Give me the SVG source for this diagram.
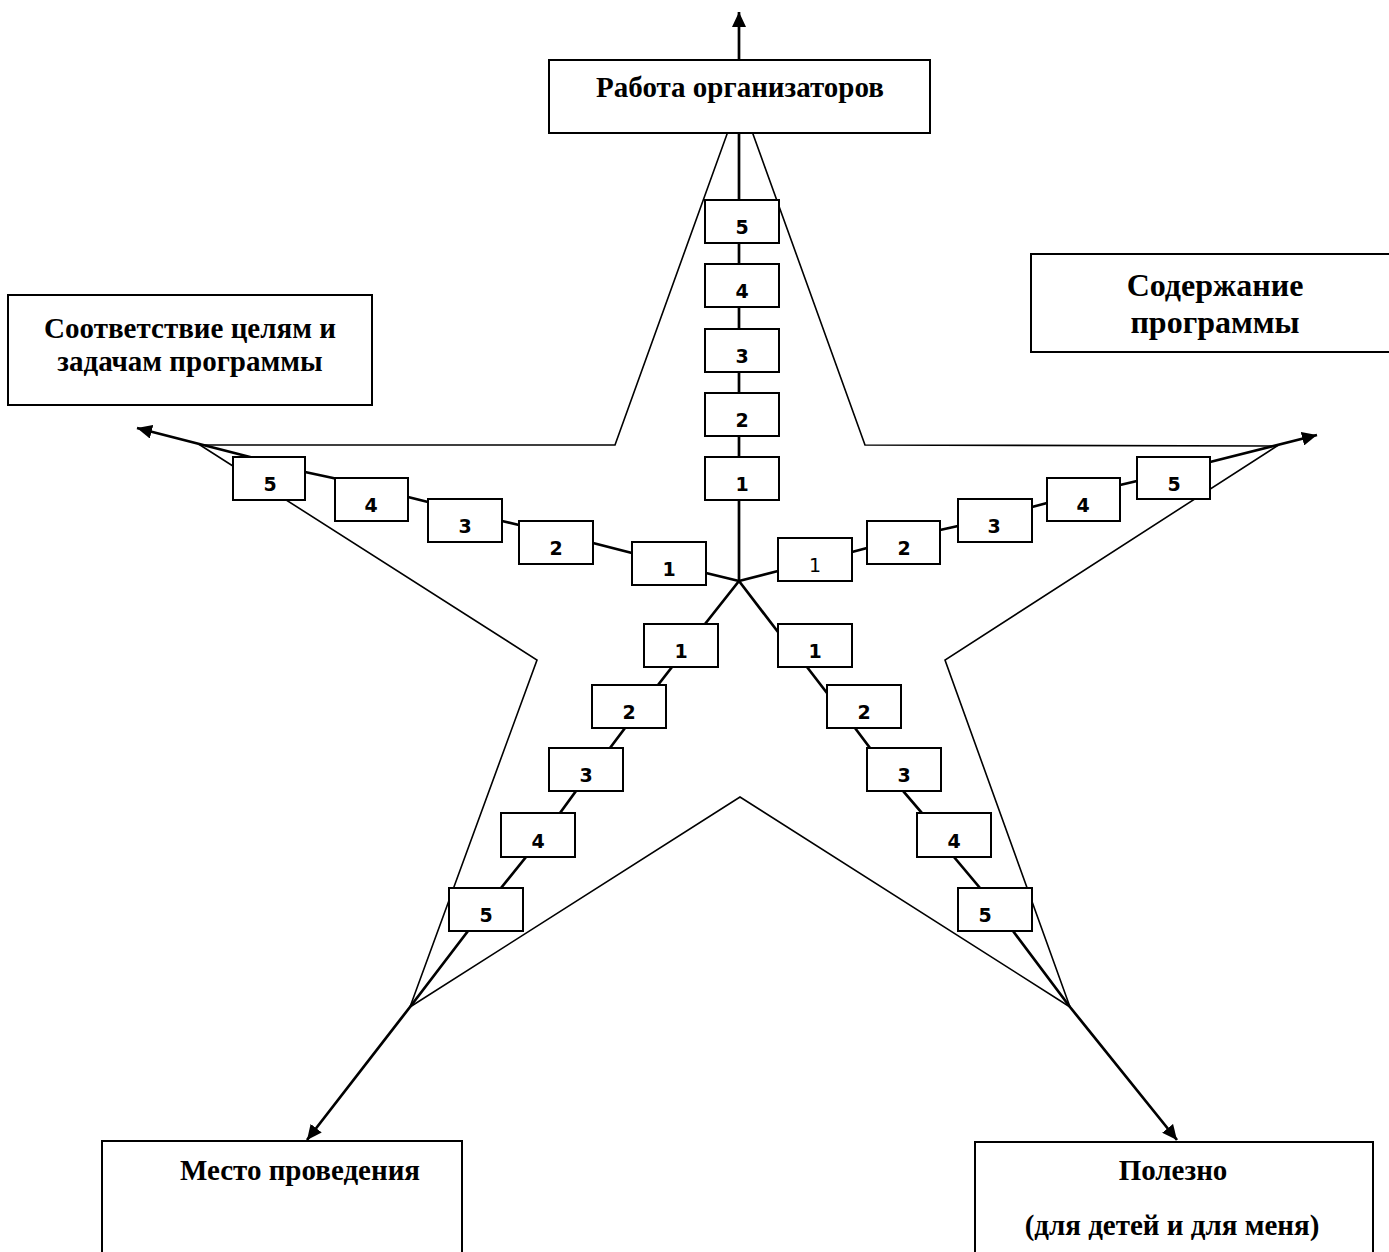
<svg xmlns="http://www.w3.org/2000/svg" width="1389" height="1252" viewBox="0 0 1389 1252">
<style>
.star{fill:none;stroke:#000;stroke-width:1.6}
.axis{fill:none;stroke:#000;stroke-width:2.7;stroke-linejoin:miter}
.nb rect{fill:#fff;stroke:#000;stroke-width:2}
.nb text{font-family:"DejaVu Sans",sans-serif;font-weight:bold;font-size:19px;text-anchor:middle}
.big rect{fill:#fff;stroke:#000;stroke-width:2}
.big text{font-family:"Liberation Serif","Times New Roman",serif;font-weight:bold;font-size:29px;text-anchor:middle}
</style>
<defs>
<marker id="ah" markerUnits="userSpaceOnUse" markerWidth="16" markerHeight="14" refX="15" refY="7" orient="auto">
<path d="M0,0 L15,7 L0,14 z" fill="#000"/>
</marker>
</defs>
<rect width="1389" height="1252" fill="#fff"/>
<g id="star">
<polygon class="star" points="740,98 865,445 1277,446 945,660 1070,1007 740,797 410,1007 537,660 200,445 615,445"/>
</g>
<g id="connectors">
<polyline class="axis" marker-end="url(#ah)" points="739,581 739,12"/>
<polyline class="axis" marker-end="url(#ah)" points="739,581 706,573 632,553 593,543 519,525 502,521 428,502 408,497 333,478 305,472 250,457 137,428"/>
<polyline class="axis" marker-end="url(#ah)" points="739,581 778,571 852,552 867,548 940,530 958,526 1032,507 1047,503 1120,485 1137,481 1210,462 1317,435"/>
<polyline class="axis" marker-end="url(#ah)" points="739,581 705,624 672,667 658,685 625,728 610,748 576,791 560,813 526,857 501,888 468,931 410,1007 307,1140"/>
<polyline class="axis" marker-end="url(#ah)" points="739,581 778,632 807,667 827,693 855,728 870,748 903,791 922,813 954,857 980,888 1013,931 1070,1007 1177,1140"/>
</g>
<g id="top-axis" class="nb">
<g id="t5"><rect x="705" y="200" width="74" height="43"/><text x="742" y="234">5</text></g>
<g id="t4"><rect x="705" y="264" width="74" height="43"/><text x="742" y="298">4</text></g>
<g id="t3"><rect x="705" y="329" width="74" height="43"/><text x="742" y="363">3</text></g>
<g id="t2"><rect x="705" y="393" width="74" height="43"/><text x="742" y="427">2</text></g>
<g id="t1"><rect x="705" y="457" width="74" height="43"/><text x="742" y="491">1</text></g>
</g>
<g id="left-axis" class="nb">
<g id="l1"><rect x="632" y="542" width="74" height="43"/><text x="669" y="576">1</text></g>
<g id="l2"><rect x="519" y="521" width="74" height="43"/><text x="556" y="555">2</text></g>
<g id="l3"><rect x="428" y="499" width="74" height="43"/><text x="465" y="533">3</text></g>
<g id="l4"><rect x="335" y="478" width="73" height="43"/><text x="371" y="512">4</text></g>
<g id="l5"><rect x="233" y="457" width="72" height="43"/><text x="270" y="491">5</text></g>
</g>
<g id="right-axis" class="nb">
<g id="r1"><rect x="778" y="538" width="74" height="43"/><text x="815" y="572" style="font-weight:normal">1</text></g>
<g id="r2"><rect x="867" y="521" width="73" height="43"/><text x="904" y="555">2</text></g>
<g id="r3"><rect x="958" y="499" width="74" height="43"/><text x="994" y="533">3</text></g>
<g id="r4"><rect x="1047" y="478" width="73" height="43"/><text x="1083" y="512">4</text></g>
<g id="r5"><rect x="1137" y="457" width="73" height="42"/><text x="1174" y="491">5</text></g>
</g>
<g id="lower-left-axis" class="nb">
<g id="ll1"><rect x="644" y="624" width="74" height="43"/><text x="681" y="658">1</text></g>
<g id="ll2"><rect x="592" y="685" width="74" height="43"/><text x="629" y="719">2</text></g>
<g id="ll3"><rect x="549" y="748" width="74" height="43"/><text x="586" y="782">3</text></g>
<g id="ll4"><rect x="501" y="813" width="74" height="44"/><text x="538" y="848">4</text></g>
<g id="ll5"><rect x="449" y="888" width="74" height="43"/><text x="486" y="922">5</text></g>
</g>
<g id="lower-right-axis" class="nb">
<g id="lr1"><rect x="778" y="624" width="74" height="43"/><text x="815" y="658">1</text></g>
<g id="lr2"><rect x="827" y="685" width="74" height="43"/><text x="864" y="719">2</text></g>
<g id="lr3"><rect x="867" y="748" width="74" height="43"/><text x="904" y="782">3</text></g>
<g id="lr4"><rect x="917" y="813" width="74" height="44"/><text x="954" y="848">4</text></g>
<g id="lr5"><rect x="958" y="888" width="74" height="43"/><text x="985" y="922">5</text></g>
</g>
<g id="box-top" class="big">
<rect x="549" y="60" width="381" height="73"/>
<text x="740" y="97">Работа организаторов</text>
</g>
<g id="box-left" class="big">
<rect x="8" y="295" width="364" height="110"/>
<text x="190" y="338">Соответствие целям и</text>
<text x="190" y="371">задачам программы</text>
</g>
<g id="box-right" class="big">
<rect x="1031" y="254" width="370" height="98"/>
<text x="1215" y="296" style="font-size:32px">Содержание</text>
<text x="1215" y="333" style="font-size:32px">программы</text>
</g>
<g id="box-bottom-left" class="big">
<rect x="102" y="1141" width="360" height="130"/>
<text x="300" y="1180">Место проведения</text>
</g>
<g id="box-bottom-right" class="big">
<rect x="975" y="1142" width="398" height="130"/>
<text x="1173" y="1180">Полезно</text>
<text x="1172" y="1235">(для детей и для меня)</text>
</g>
</svg>
